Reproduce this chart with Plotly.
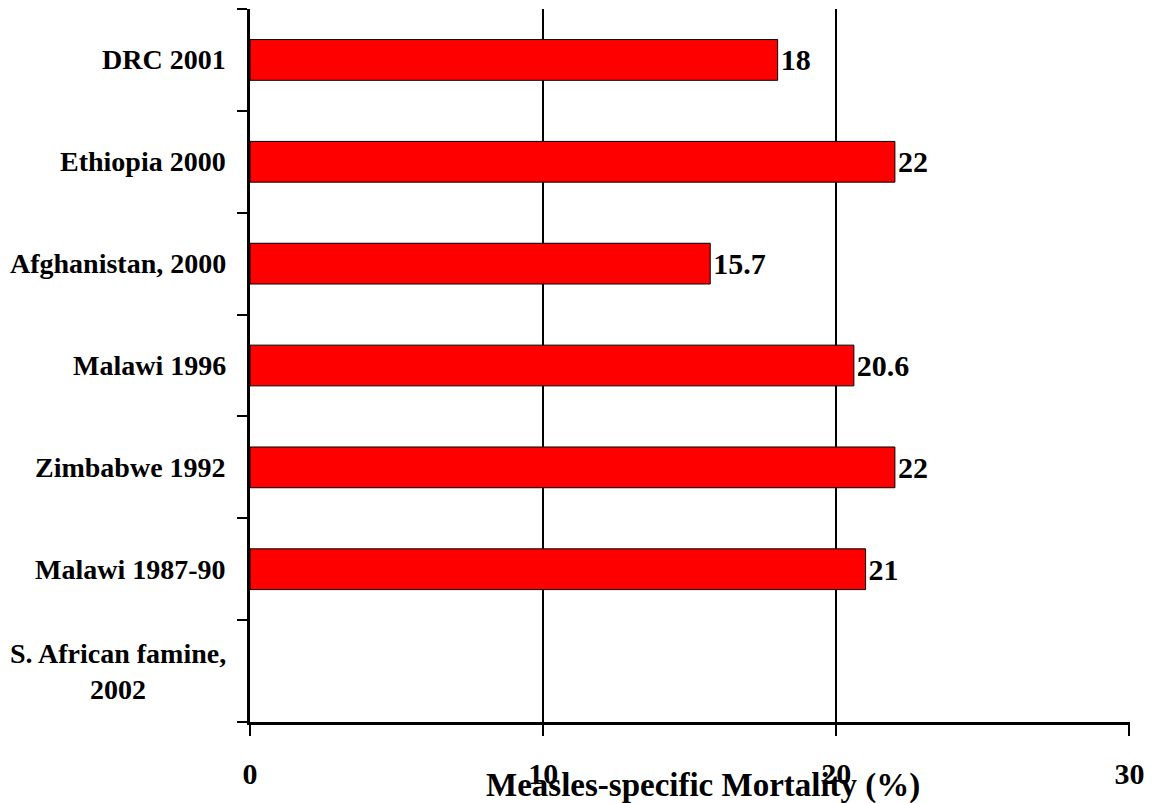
import plotly.graph_objects as go

categories = ["DRC 2001", "Ethiopia 2000", "Afghanistan, 2000", "Malawi 1996",
              "Zimbabwe 1992", "Malawi 1987-90", "S. African famine,<br>2002"]
values = [18, 22, 15.7, 20.6, 22, 21, None]
value_labels = ["18", "22", "15.7", "20.6", "22", "21", ""]
x_ticks = [0, 10, 20, 30]
x_title = "Measles-specific Mortality (%)"

FONT = "Liberation Serif"
positions = list(range(len(categories)))

fig = go.Figure()
fig.add_trace(go.Bar(
    x=values, y=positions, orientation="h", width=0.4,
    marker=dict(color="#FF0000", line=dict(color="black", width=1)),
    text=["<b>%s</b>" % v if v else "" for v in value_labels],
    textposition="outside", cliponaxis=False,
    textfont=dict(family=FONT, size=30, color="black"),
    hoverinfo="skip",
))

for pos, cat in zip(positions, categories):
    fig.add_annotation(
        x=0, y=pos, xref="x", yref="y", text="<b>%s</b>" % cat,
        xanchor="right", yanchor="middle", align="center", xshift=-22,
        showarrow=False, font=dict(family=FONT, size=28, color="black"),
    )

fig.add_annotation(
    x=0.515, y=-0.0884, xref="paper", yref="paper", text="<b>%s</b>" % x_title,
    xanchor="center", yanchor="middle", showarrow=False,
    font=dict(family=FONT, size=33, color="black"),
)

fig.update_layout(
    width=1153, height=803,
    margin=dict(l=250, r=23, t=9, b=81),
    plot_bgcolor="white", paper_bgcolor="white",
    showlegend=False,
    font=dict(family=FONT, color="black"),
    xaxis=dict(
        range=[0, 30.02], tickmode="array", tickvals=x_ticks,
        ticktext=["<b>%d</b>" % t for t in x_ticks],
        tickfont=dict(family=FONT, size=30, color="black"),
        ticks="outside", ticklen=11, tickwidth=2, tickcolor="black",
        ticklabelstandoff=12,
        showgrid=True, gridcolor="black", gridwidth=2,
        showline=True, linecolor="black", linewidth=3,
        zeroline=False,
    ),
    yaxis=dict(
        range=[6.5, -0.5], autorange=False,
        tickmode="array", tickvals=positions, showticklabels=False,
        ticks="",
        minor=dict(ticks="outside", tick0=-0.5, dtick=1, ticklen=10,
                   tickwidth=2, tickcolor="black", showgrid=False),
        showgrid=False, zeroline=False,
        showline=True, linecolor="black", linewidth=3,
    ),
)

fig.write_html("out.html", config={"displayModeBar": False},
               post_script="document.body.style.margin='0px';")
